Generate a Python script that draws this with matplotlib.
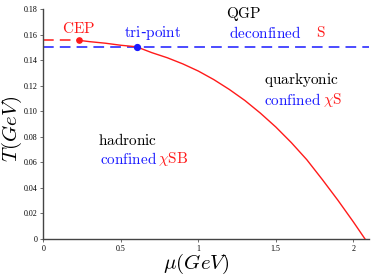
import matplotlib
matplotlib.use("Agg")
import matplotlib.pyplot as plt

plt.rcParams["mathtext.fontset"] = "cm"

# crossover / first-order line T(mu)
mu_line = [0.232, 0.3, 0.4, 0.5, 0.601, 0.7, 0.8, 0.9, 1.0, 1.1, 1.2, 1.3,
           1.4, 1.5, 1.6, 1.7, 1.8, 1.9, 1.95, 2.0, 2.076]
t_line = [0.1555, 0.1545, 0.1533, 0.1517, 0.1505, 0.1459, 0.1419, 0.1371,
          0.1315, 0.1248, 0.1171, 0.1085, 0.0986, 0.0877, 0.0755, 0.0621,
          0.0466, 0.0305, 0.022, 0.0135, 0.0]

# dashed extensions
mu_cep_dash = [0.0, 0.232]
t_cep_dash = [0.1555, 0.1555]
mu_deconf = [0.0, 2.1]
t_deconf = [0.150, 0.150]

cep = (0.232, 0.1555)
tri = (0.601, 0.1505)

xticks = [0, 0.5, 1, 1.5, 2]
xtick_labels = ["0", "0.5", "1", "1.5", "2"]
yticks = [0, 0.02, 0.04, 0.06, 0.08, 0.10, 0.12, 0.14, 0.16, 0.18]
ytick_labels = ["0", "0.02", "0.04", "0.06", "0.08", "0.10", "0.12",
                "0.14", "0.16", "0.18"]

RED = "#ff1a1a"
BLUE = "#1a1aff"

fig = plt.figure(figsize=(3.74, 2.76), dpi=100)
ax = fig.add_axes([0.116, 0.134, 0.870, 0.833])

ax.plot(mu_deconf, t_deconf, color=BLUE, lw=1.1, dashes=(7, 4), zorder=2)
ax.plot(mu_cep_dash, t_cep_dash, color=RED, lw=1.1, dashes=(7, 4), zorder=2)
ax.plot(mu_line, t_line, color=RED, lw=1.0, zorder=3)
ax.plot(*cep, "o", color=RED, ms=3.8, zorder=4)
ax.plot(*tri, "o", color=BLUE, ms=4.2, zorder=4)

ax.set_xlim(0, 2.1)
ax.set_ylim(0, 0.18)
ax.set_xticks(xticks)
ax.set_xticklabels(xtick_labels)
ax.set_yticks(yticks)
ax.set_yticklabels(ytick_labels)
for lab in ax.get_xticklabels() + ax.get_yticklabels():
    lab.set_family("Liberation Serif")
    lab.set_fontsize(5.8)
ax.tick_params(length=2, width=0.6, color="#555555", pad=2)

for s in ["top", "right"]:
    ax.spines[s].set_visible(False)
for s in ["left", "bottom"]:
    ax.spines[s].set_color("#444444")
    ax.spines[s].set_linewidth(1.0)

ax.set_xlabel(r"$\mu(GeV)$", fontsize=15)
ax.set_ylabel(r"$T(GeV)$", fontsize=15)
ax.xaxis.set_label_coords(0.47, -0.055, transform=ax.transAxes)
ax.yaxis.set_label_coords(-0.098, 0.48, transform=ax.transAxes)
ax.xaxis.label.set_va("top")
ax.yaxis.label.set_va("center")

fs = 11
ax.text(0.23, 0.165, r"$\mathrm{CEP}$", color=RED, fontsize=fs,
        ha="center", va="center")
ax.text(0.706, 0.161, r"$\mathrm{tri}$-$\mathrm{point}$", color=BLUE,
        fontsize=fs, ha="center", va="center")
ax.text(1.176, 0.176, r"$\mathrm{QGP}$", color="black", fontsize=fs,
        ha="left", va="center")
ax.text(1.196, 0.1615, r"$\mathrm{deconfined}$", color=BLUE, fontsize=fs,
        ha="left", va="center")
ax.text(1.762, 0.1615, r"$\mathrm{S}$", color=RED, fontsize=fs,
        ha="left", va="center")
ax.text(1.427, 0.1244, r"$\mathrm{quarkyonic}$", color="black", fontsize=fs,
        ha="left", va="center")
ax.text(1.427, 0.1088, r"$\mathrm{confined}$", color=BLUE, fontsize=fs,
        ha="left", va="center")
ax.text(1.807, 0.1088, r"$\chi\mathrm{S}$", color=RED, fontsize=fs,
        ha="left", va="center")
ax.text(0.352, 0.0775, r"$\mathrm{hadronic}$", color="black", fontsize=fs,
        ha="left", va="center")
ax.text(0.365, 0.0626, r"$\mathrm{confined}$", color=BLUE, fontsize=fs,
        ha="left", va="center")
ax.text(0.739, 0.0626, r"$\chi\mathrm{SB}$", color=RED, fontsize=fs,
        ha="left", va="center")

fig.savefig("out.png", dpi=100)
